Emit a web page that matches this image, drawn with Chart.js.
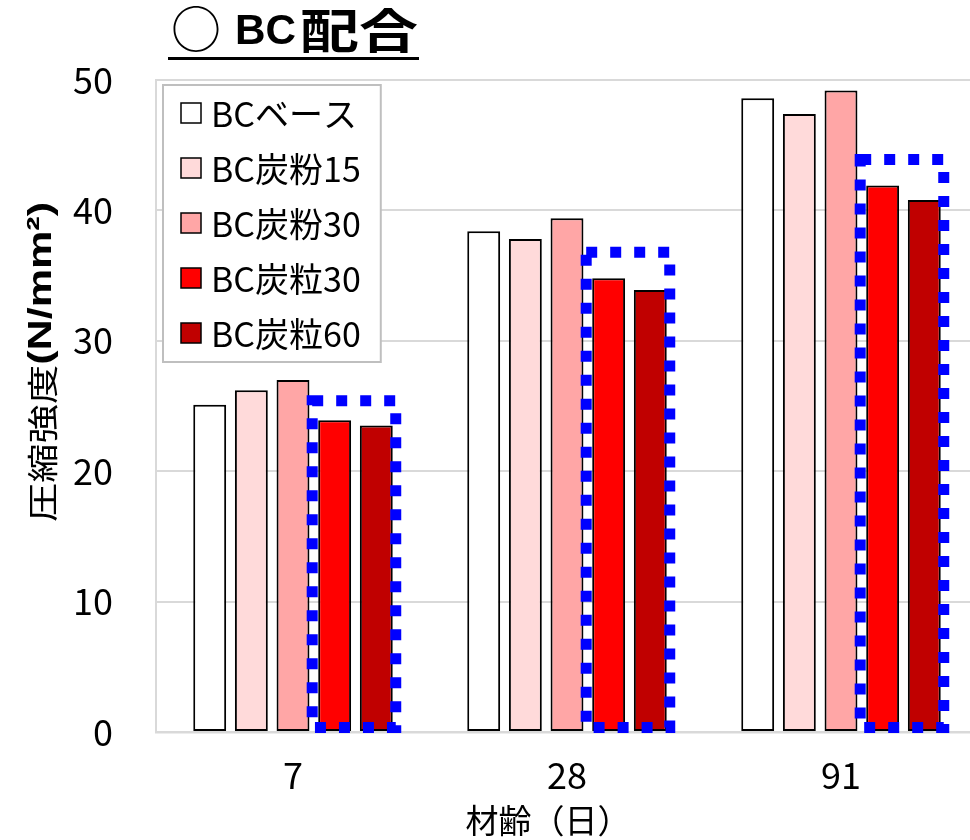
<!DOCTYPE html>
<html>
<head>
<meta charset="utf-8">
<script src="https://cdn.jsdelivr.net/npm/chart.js@4.4.1/dist/chart.umd.min.js"></script>
<style>
  html, body { margin: 0; padding: 0; background: #fff; overflow: hidden; }
  #wrap { position: relative; width: 990px; height: 840px; }
</style>
</head>
<body>
<div id="wrap"><canvas id="c" width="990" height="840"></canvas></div>
<script>
// Ages (days) on the category axis
const ages = ['7', '28', '91'];

// Mix names
const seriesNames = ['BCベース', 'BC炭粉15', 'BC炭粉30', 'BC炭粒30', 'BC炭粒60'];

// Compressive strength (N/mm²) per mix
const bcBase   = [25.1, 38.4, 48.6];
const bcFun15  = [26.2, 37.8, 47.4];
const bcFun30  = [27.0, 39.4, 49.2];
const bcRyu30  = [23.9, 34.8, 41.9];
const bcRyu60  = [23.5, 33.9, 40.8];

// Upper level of the highlight frame around the 炭粒 bars, per age
const frameTop = [25.4, 36.8, 43.9];
const frameBottom = 0.35;

// Value axis ticks
const yTicks = [0, 10, 20, 30, 40, 50];

const fillColors = ['#FFFFFF', '#FFDADA', '#FFA6A6', '#FF0000', '#C00000'];
const seriesValues = [bcBase, bcFun15, bcFun30, bcRyu30, bcRyu60];

const JP = "'Noto Sans CJK JP', 'Noto Sans', sans-serif";
const LAT = "'Liberation Sans', 'Noto Sans CJK JP', sans-serif";

const datasets = seriesNames.map((name, i) => ({
  label: name,
  data: seriesValues[i],
  backgroundColor: fillColors[i],
  borderColor: '#000000',
  borderWidth: 2,
  borderSkipped: false,
  categoryPercentage: 0.76,
  barPercentage: 0.79
}));

// Dotted blue frame around the last two bars of every age group
const framePlugin = {
  id: 'frames',
  afterDatasetsDraw(chart) {
    const ctx = chart.ctx;
    const y = chart.scales.y;
    const m3 = chart.getDatasetMeta(3).data;
    const m4 = chart.getDatasetMeta(4).data;
    ctx.save();
    ctx.strokeStyle = '#0000FF';
    ctx.lineWidth = 11;
    ctx.setLineDash([11, 13]);
    ctx.lineCap = 'butt';
    for (let i = 0; i < ages.length; i++) {
      const a = m3[i], b = m4[i];
      const left = a.x - a.width / 2 - 6;
      const right = b.x + b.width / 2 + 3;
      const top = y.getPixelForValue(frameTop[i]);
      const bottom = y.getPixelForValue(frameBottom);
      ctx.beginPath();
      ctx.rect(left, top, right - left, bottom - top);
      ctx.stroke();
    }
    ctx.restore();
  }
};

// Draws a run of differently styled pieces, stretched along the text to a given length
function drawRuns(ctx, runs, x, y, length) {
  let natural = 0;
  runs.forEach(r => { ctx.font = r.font; r.w = ctx.measureText(r.text).width; natural += r.w; });
  const sx = length / natural;
  ctx.save();
  ctx.translate(x, y);
  ctx.scale(sx, 1);
  let cx = 0;
  runs.forEach(r => { ctx.font = r.font; ctx.fillText(r.text, cx, 0); cx += r.w; });
  ctx.restore();
}

// Titles and boxed legend inside the plot
const decorPlugin = {
  id: 'decor',
  afterDraw(chart) {
    const ctx = chart.ctx;
    const area = chart.chartArea;
    ctx.save();
    ctx.fillStyle = '#000';
    ctx.textAlign = 'left';

    // Chart title, underlined
    ctx.textBaseline = 'alphabetic';
    ctx.font = '50px ' + JP;
    ctx.fillText('○', 171, 48);
    drawRuns(ctx, [{ text: 'BC', font: 'bold 42px ' + LAT }], 235, 44, 61);
    drawRuns(ctx, [{ text: '配合', font: 'bold 47px ' + JP }], 300, 48, 118);
    ctx.fillRect(168, 57, 251, 3);

    // Y axis title: regular Japanese part + bold unit, read bottom to top
    ctx.save();
    ctx.translate(42, 362);
    ctx.rotate(-Math.PI / 2);
    ctx.textBaseline = 'middle';
    drawRuns(ctx, [
      { text: '圧縮強度', font: '31px ' + JP },
      { text: '(N/mm²)', font: 'bold 34px ' + LAT }
    ], -160, 0, 320);
    ctx.restore();

    // X axis title
    ctx.font = '33px ' + JP;
    ctx.textAlign = 'center';
    ctx.textBaseline = 'middle';
    ctx.fillText('材齢（日）', (area.left + area.right) / 2 - 19, 820);

    // Legend box
    ctx.font = '34px ' + JP;
    const items = chart.data.datasets;
    let maxW = 0;
    items.forEach(d => { maxW = Math.max(maxW, ctx.measureText(d.label).width); });
    const bx = area.left + 7, by = area.top + 5;
    const textX = bx + 48;
    const bw = textX - bx + maxW + 20;
    const rowH = 55;
    const bh = 277;
    ctx.fillStyle = '#FFFFFF';
    ctx.fillRect(bx, by, bw, bh);
    ctx.strokeStyle = '#BFBFBF';
    ctx.lineWidth = 2;
    ctx.strokeRect(bx, by, bw, bh);
    items.forEach((d, i) => {
      const cyR = by + 28 + i * rowH;
      ctx.fillStyle = d.backgroundColor;
      ctx.fillRect(bx + 18, cyR - 10, 20, 20);
      ctx.strokeStyle = '#000';
      ctx.lineWidth = 1.5;
      ctx.strokeRect(bx + 18, cyR - 10, 20, 20);
      ctx.fillStyle = '#000';
      ctx.textAlign = 'left';
      ctx.textBaseline = 'middle';
      ctx.fillText(d.label, textX, cyR + 1);
    });
    ctx.restore();
  }
};

new Chart(document.getElementById('c'), {
  type: 'bar',
  data: { labels: ages, datasets },
  options: {
    responsive: false,
    animation: false,
    layout: { padding: { left: 0, right: 12, top: 80, bottom: 0 } },
    plugins: { legend: { display: false }, tooltip: { enabled: false }, title: { display: false } },
    scales: {
      x: {
        grid: { display: false, drawTicks: false },
        border: { display: true, color: '#D9D9D9', width: 2.5 },
        ticks: { font: { family: JP, size: 36 }, color: '#000', padding: 22 },
        afterFit(s) { s.height = 108; }
      },
      y: {
        min: 0, max: 50,
        afterBuildTicks(s) { s.ticks = yTicks.map(v => ({ value: v })); },
        grid: { color: '#D9D9D9', lineWidth: 2, drawTicks: false },
        border: { display: true, color: '#D9D9D9', width: 2 },
        ticks: { font: { family: JP, size: 36 }, color: '#000', padding: 43 },
        afterFit(s) { s.width = 156; }
      }
    }
  },
  plugins: [framePlugin, decorPlugin]
});
</script>
</body>
</html>
